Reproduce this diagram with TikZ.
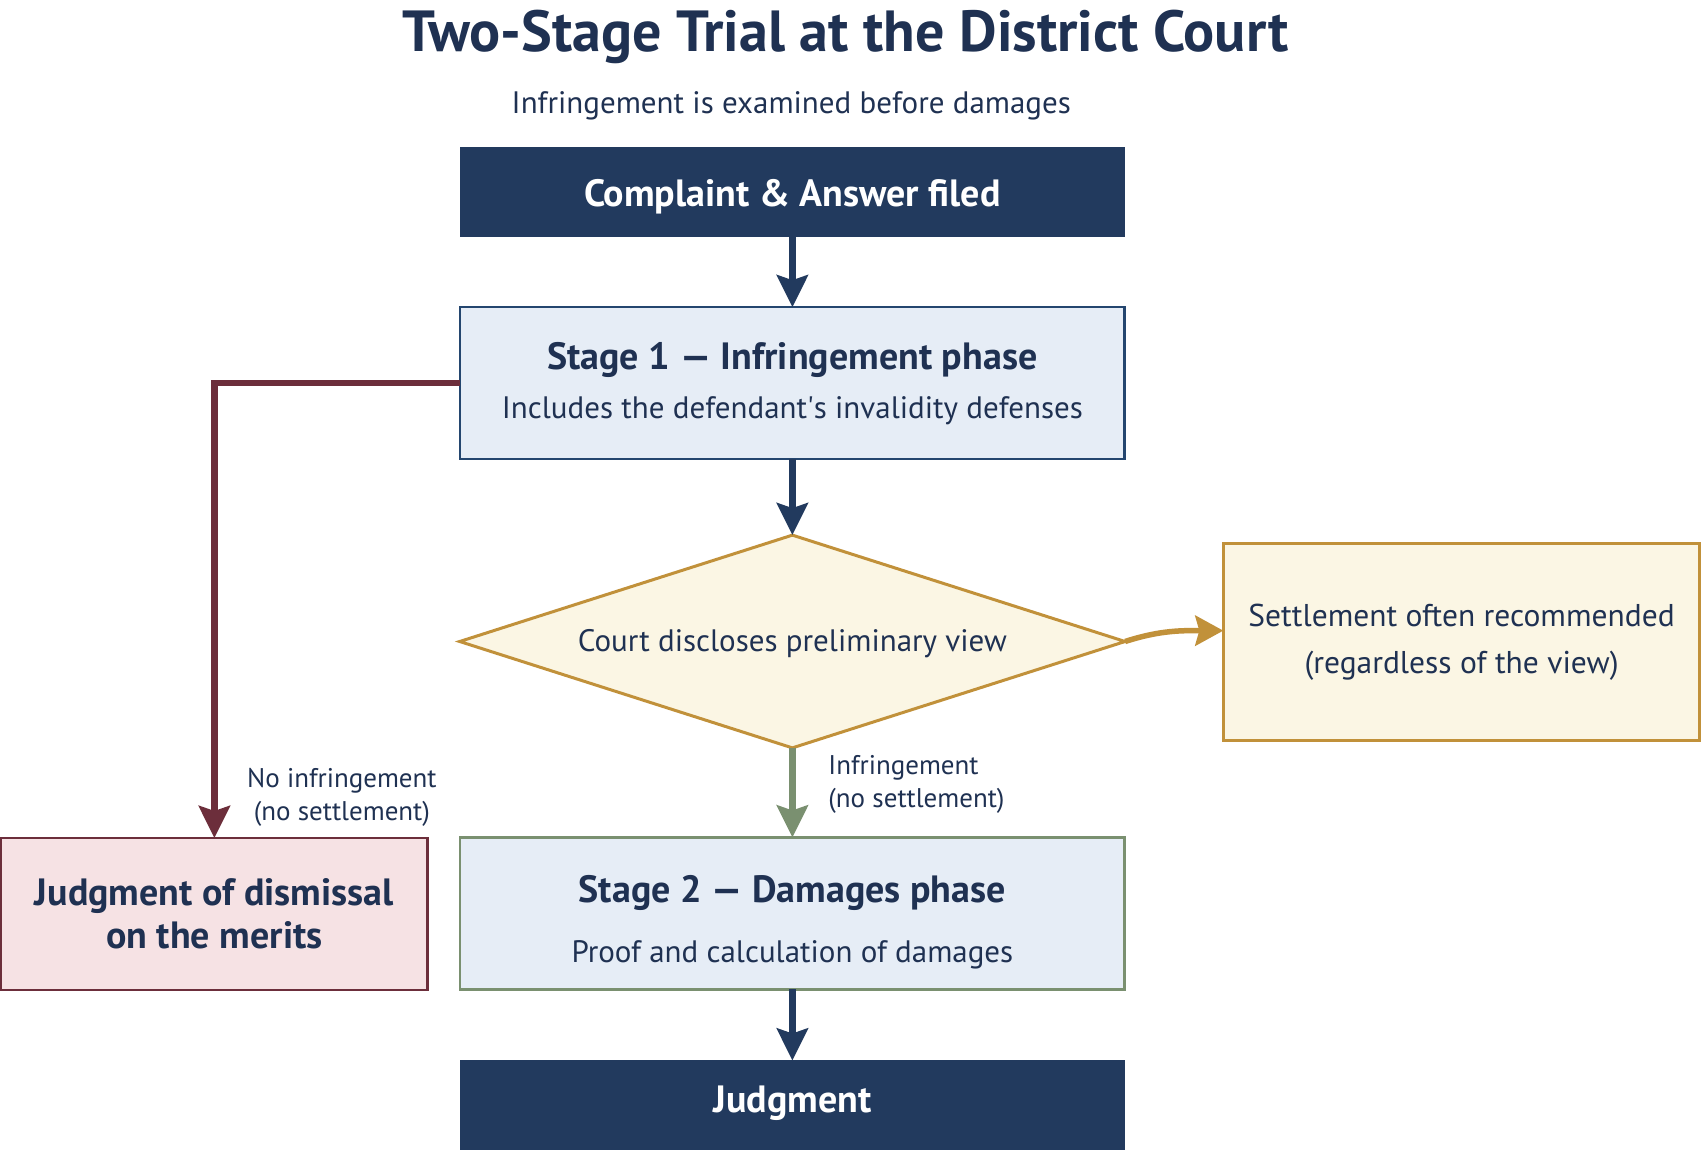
\documentclass[tikz,border=0pt]{standalone}
\usepackage{fontspec}
\setmainfont{PT Sans}
\usetikzlibrary{shapes.geometric,arrows.meta}
\definecolor{navy}{HTML}{223A5E}
\definecolor{navytxt}{HTML}{1F3152}
\definecolor{blueline}{HTML}{24466F}
\definecolor{lightblue}{HTML}{E6EDF6}
\definecolor{gold}{HTML}{C1913A}
\definecolor{cream}{HTML}{FBF6E4}
\definecolor{sage}{HTML}{7A9070}
\definecolor{maroon}{HTML}{6C2E3B}
\definecolor{pinkfill}{HTML}{F6E2E4}
\newcommand\titlefnt{\fontsize{58}{64}\bfseries\selectfont}
\newcommand\subfnt{\fontsize{31}{36}\selectfont}
\newcommand\bboxfnt{\fontsize{38}{44}\bfseries\selectfont}
\newcommand\rboxfnt{\fontsize{31}{36}\selectfont}
\newcommand\lblfnt{\fontsize{27}{33}\selectfont}
\begin{document}
\begin{tikzpicture}[x=1.0855pt,y=-1.0855pt,
  box/.style={rectangle, minimum width=612*1.0855pt, inner sep=0pt, outer sep=0pt, align=center, text=navytxt},
  darkbox/.style={box, fill=navy, draw=navy, minimum height=82*1.0855pt, text=white, text depth=0pt},
  stagebox/.style={box, fill=lightblue, line width=2.2pt, minimum height=140*1.0855pt},
  flow/.style={line width=6.5pt, -{Stealth[length=32pt,width=31pt,inset=5pt]}},
]
\useasboundingbox (0,0) rectangle (1568,1059);
\node[anchor=base, text=navytxt, font=\titlefnt] (title) at (779,47) {Two-Stage Trial at the District Court};
\node[anchor=base, text=navytxt, font=\subfnt] (sub) at (729,105) {Infringement is examined before damages};

\node[darkbox, font=\bboxfnt, text height=29pt] (start) at (730,177) {Complaint \& Answer filed};
\node[stagebox, draw=blueline, font=\fontsize{31}{49}\selectfont] (s1) at (730,353)
  {{\bboxfnt Stage 1 — Infringement phase}\\Includes the defendant\textquotesingle s invalidity defenses};
\node[diamond, fill=cream, draw=gold, line width=3pt, minimum width=613*1.0855pt, minimum height=196*1.0855pt,
  inner sep=0pt, outer sep=0pt, aspect=3.1, text=navytxt, font=\rboxfnt] (dia) at (730,591)
  {\rule{0pt}{26pt}Court discloses preliminary view};
\node[rectangle, fill=cream, draw=gold, line width=3.2pt, minimum width=439*1.0855pt, minimum height=181*1.0855pt,
  inner sep=0pt, outer sep=0pt, align=center, text=navytxt, font=\fontsize{31.5}{47}\selectfont] (set) at (1346.5,591.5)
  {Settlement often recommended\\(regardless of the view)};
\node[stagebox, draw=sage, font=\fontsize{31}{60}\selectfont] (s2) at (730,841.5)
  {{\bboxfnt\rule{0pt}{45pt}Stage 2 — Damages phase}\\Proof and calculation of damages};
\node[rectangle, fill=pinkfill, draw=maroon, line width=2.5pt, minimum width=393*1.0855pt, minimum height=140*1.0855pt,
  inner sep=0pt, outer sep=0pt, align=center, text=navytxt, font=\fontsize{38}{43}\bfseries\selectfont] (dis) at (197.5,842)
  {Judgment of dismissal\\on the merits};
\node[darkbox, font=\bboxfnt, minimum height=86*1.0855pt, text depth=15pt] (end) at (730,1020) {Judgment};

\node[text=navytxt, font=\lblfnt, align=center, inner sep=0pt] (lno) at (315,735) {No infringement\\(no settlement)};
\node[text=navytxt, font=\lblfnt, align=left, anchor=west, inner sep=0pt] (lyes) at (763,723) {Infringement\\(no settlement)};

\draw[flow, navy] (start) -- (s1);
\draw[flow, navy] (s1) -- (dia);
\draw[flow, sage] (dia) -- (s2);
\draw[flow, navy] (s2) -- (end);
\draw[flow, maroon, line join=miter] (s1.west) -| (dis.north);
\draw[line width=5.5pt, gold, -{Stealth[length=28pt,width=30pt,inset=4pt]}] (dia.east) to[out=18,in=180] ([yshift=11.4pt]set.west);
\end{tikzpicture}
\end{document}
